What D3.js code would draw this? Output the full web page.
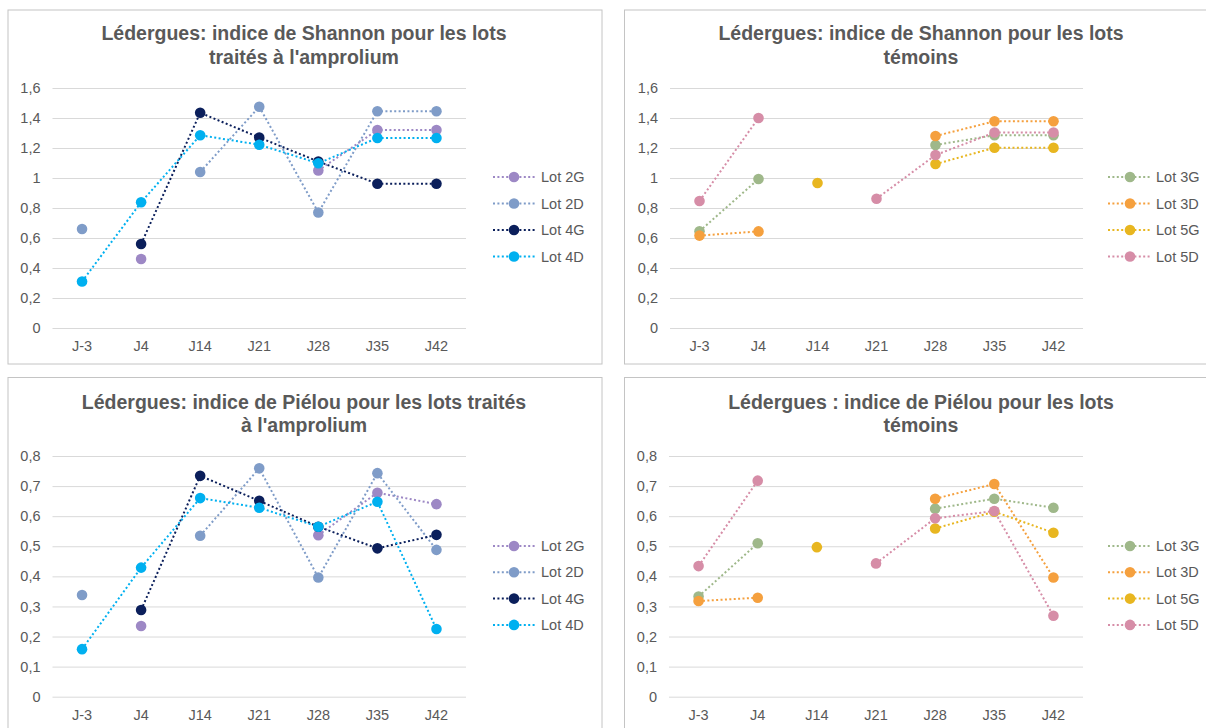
<!DOCTYPE html>
<html>
<head>
<meta charset="utf-8">
<script src="https://cdn.jsdelivr.net/npm/d3@7"></script>
<style>
  body { margin: 0; background: #ffffff; }
  svg { display: block; font-family: "Liberation Sans", Arial, sans-serif; }
</style>
</head>
<body>
<svg id="chart" width="1206" height="728"></svg>
<script>
// ---------- DATA ----------
const categories = ["J-3", "J4", "J14", "J21", "J28", "J35", "J42"];

const shannonTicks = [0, 0.2, 0.4, 0.6, 0.8, 1, 1.2, 1.4, 1.6];
const shannonTickLabels = ["0", "0,2", "0,4", "0,6", "0,8", "1", "1,2", "1,4", "1,6"];
const pielouTicks = [0, 0.1, 0.2, 0.3, 0.4, 0.5, 0.6, 0.7, 0.8];
const pielouTickLabels = ["0", "0,1", "0,2", "0,3", "0,4", "0,5", "0,6", "0,7", "0,8"];

const treatedNames = ["Lot 2G", "Lot 2D", "Lot 4G", "Lot 4D"];
const controlNames = ["Lot 3G", "Lot 3D", "Lot 5G", "Lot 5D"];

const titleShannonTreated = ["Lédergues: indice de Shannon pour les lots", "traités à l'amprolium"];
const titleShannonControl = ["Lédergues: indice de Shannon pour les lots", "témoins"];
const titlePielouTreated = ["Lédergues: indice de Piélou pour les lots traités", "à l'amprolium"];
const titlePielouControl = ["Lédergues : indice de Piélou pour les lots", "témoins"];

// Shannon – treated
const shannonLot2G = [null, 0.46, null, null, 1.05, 1.32, 1.32];
const shannonLot2D = [0.66, null, 1.04, 1.475, 0.77, 1.445, 1.445];
const shannonLot4G = [null, 0.56, 1.435, 1.27, 1.11, 0.962, 0.962];
const shannonLot4D = [0.31, 0.838, 1.285, 1.222, 1.098, 1.267, 1.267];

// Shannon – control
const shannonLot3G = [0.645, 0.993, null, null, 1.22, 1.285, 1.285];
const shannonLot3D = [0.616, 0.644, null, null, 1.28, 1.378, 1.378];
const shannonLot5G = [null, null, 0.967, null, 1.093, 1.202, 1.202];
const shannonLot5D = [0.847, 1.40, null, 0.862, 1.153, 1.303, 1.303];

// Piélou – treated
const pielouLot2G = [null, 0.235, null, null, 0.537, 0.678, 0.64];
const pielouLot2D = [0.338, null, 0.535, 0.759, 0.396, 0.743, 0.488];
const pielouLot4G = [null, 0.288, 0.734, 0.651, 0.565, 0.493, 0.538];
const pielouLot4D = [0.158, 0.429, 0.66, 0.628, 0.565, 0.648, 0.225];

// Piélou – control
const pielouLot3G = [0.333, 0.51, null, null, 0.625, 0.658, 0.628];
const pielouLot3D = [0.318, 0.329, null, null, 0.658, 0.707, 0.396];
const pielouLot5G = [null, null, 0.497, null, 0.559, 0.615, 0.545];
const pielouLot5D = [0.434, 0.718, null, 0.443, 0.593, 0.617, 0.269];

// ---------- STYLE ----------
const treatedColors = ["#9d88c5", "#7f9cc8", "#0b1f5b", "#00b0f0"];
const controlColors = ["#9fb88a", "#f5a03e", "#e8b620", "#d68da7"];
const textColor = "#595959";
const gridColor = "#d9d9d9";
const borderColor = "#c4c4c4";

const panels = [
  { box: [8, 10, 594, 354], plot: [52.5, 88, 466, 328], title: titleShannonTreated, titleX: 304, titleY: 33.5,
    ticks: shannonTicks, tickLabels: shannonTickLabels, max: 1.6,
    names: treatedNames, colors: treatedColors,
    series: [shannonLot2G, shannonLot2D, shannonLot4G, shannonLot4D],
    legend: { lineX0: 493, lineX1: 535, markerX: 514, textX: 541, y0: 177, dy: 26.5 } },
  { box: [624.5, 10, 600, 354], plot: [670, 88, 1083, 328], title: titleShannonControl, titleX: 921, titleY: 33.5,
    ticks: shannonTicks, tickLabels: shannonTickLabels, max: 1.6,
    names: controlNames, colors: controlColors,
    series: [shannonLot3G, shannonLot3D, shannonLot5G, shannonLot5D],
    legend: { lineX0: 1108, lineX1: 1150, markerX: 1130, textX: 1156, y0: 177, dy: 26.5 } },
  { box: [8, 377.5, 594, 380], plot: [52.5, 456, 466, 696.7], title: titlePielouTreated, titleX: 304, titleY: 402,
    ticks: pielouTicks, tickLabels: pielouTickLabels, max: 0.8,
    names: treatedNames, colors: treatedColors,
    series: [pielouLot2G, pielouLot2D, pielouLot4G, pielouLot4D],
    legend: { lineX0: 493, lineX1: 535, markerX: 514, textX: 541, y0: 546, dy: 26.3 } },
  { box: [624.5, 377.5, 600, 380], plot: [669, 456, 1083, 696.7], title: titlePielouControl, titleX: 921, titleY: 402,
    ticks: pielouTicks, tickLabels: pielouTickLabels, max: 0.8,
    names: controlNames, colors: controlColors,
    series: [pielouLot3G, pielouLot3D, pielouLot5G, pielouLot5D],
    legend: { lineX0: 1108, lineX1: 1150, markerX: 1130, textX: 1156, y0: 546, dy: 26.3 } }
];

const svg = d3.select("#chart");
svg.append("rect").attr("width", 1206).attr("height", 728).attr("fill", "#fff");

panels.forEach(p => {
  const g = svg.append("g");
  g.append("rect")
    .attr("x", p.box[0]).attr("y", p.box[1])
    .attr("width", p.box[2]).attr("height", p.box[3])
    .attr("fill", "#fff").attr("stroke", borderColor).attr("stroke-width", 1);

  // title
  const t = g.append("text")
    .attr("x", p.titleX).attr("y", p.titleY)
    .attr("text-anchor", "middle")
    .attr("fill", textColor)
    .style("font-size", "19.5px").style("font-weight", "bold");
  p.title.forEach((line, i) => {
    t.append("tspan").attr("x", p.titleX).attr("dy", i === 0 ? "0.35em" : "23.5px").text(line);
  });

  const [x0, y0, x1, y1] = p.plot;
  const x = d3.scaleBand().domain(categories).range([x0, x1]).padding(0);
  const y = d3.scaleLinear().domain([0, p.max]).range([y1, y0]);

  // gridlines
  const grid = g.append("g").attr("transform", `translate(${x0},0)`)
    .call(d3.axisLeft(y).tickValues(p.ticks).tickSize(-(x1 - x0)).tickFormat(""));
  grid.select(".domain").remove();
  grid.selectAll("line").attr("stroke", gridColor).attr("stroke-width", 1);

  // y labels
  const ya = g.append("g").attr("transform", `translate(${x0 - 12},0)`)
    .call(d3.axisLeft(y).tickValues(p.ticks).tickSize(0)
      .tickFormat((d, i) => p.tickLabels[i]));
  ya.select(".domain").remove();
  ya.selectAll("text").attr("fill", textColor).style("font-size", "14.5px")
    .attr("font-family", null).attr("x", 0);

  // x labels
  const xa = g.append("g").attr("transform", `translate(0,${y1 + 18})`)
    .call(d3.axisBottom(x).tickSize(0));
  xa.select(".domain").remove();
  xa.selectAll("text").attr("fill", textColor).style("font-size", "14.5px")
    .attr("font-family", null).attr("y", 0).attr("dy", "0.35em");

  const cx = c => x(c) + x.bandwidth() / 2;

  // series
  p.series.forEach((vals, si) => {
    const color = p.colors[si];
    const pts = vals.map((v, i) => ({ c: categories[i], v }));
    const line = d3.line().defined(d => d.v != null).x(d => cx(d.c)).y(d => y(d.v));
    g.append("path").datum(pts)
      .attr("d", line).attr("fill", "none")
      .attr("stroke", color).attr("stroke-width", 2)
      .attr("stroke-dasharray", "2 2.4");
    g.append("g").selectAll("circle").data(pts.filter(d => d.v != null)).join("circle")
      .attr("cx", d => cx(d.c)).attr("cy", d => y(d.v)).attr("r", 5.3)
      .attr("fill", color);
  });

  // legend
  const L = p.legend;
  p.names.forEach((name, i) => {
    const ly = L.y0 + i * L.dy;
    g.append("line").attr("x1", L.lineX0).attr("x2", L.lineX1).attr("y1", ly).attr("y2", ly)
      .attr("stroke", p.colors[i]).attr("stroke-width", 2).attr("stroke-dasharray", "2 2.4");
    g.append("circle").attr("cx", L.markerX).attr("cy", ly).attr("r", 5.3).attr("fill", p.colors[i]);
    g.append("text").attr("x", L.textX).attr("y", ly).attr("dy", "0.35em")
      .attr("fill", textColor).style("font-size", "14.5px").text(name);
  });
});
</script>
</body>
</html>
